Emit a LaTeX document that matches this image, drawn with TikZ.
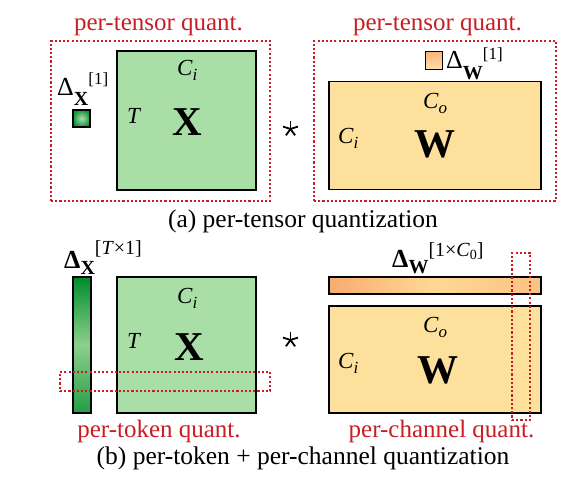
\documentclass[tikz,border=0pt]{standalone}
\usepackage{fontspec}
\setmainfont{Liberation Serif}
\definecolor{gfill}{RGB}{169,223,167}
\definecolor{ofill}{RGB}{253,224,156}
\definecolor{qred}{RGB}{200,30,35}
\definecolor{gdark}{RGB}{0,140,45}
\definecolor{glight}{RGB}{140,208,140}
\definecolor{odark}{RGB}{248,172,112}
\definecolor{olight}{RGB}{254,216,150}
\tikzset{
  mat/.style={draw=black, line width=1.7pt, inner sep=0pt, outer sep=0pt},
  qbox/.style={draw=qred, line width=2.1pt, dash pattern=on 2.1pt off 2.1pt, inner sep=0pt, outer sep=0pt},
  qlab/.style={text=qred, font=\fontsize{25}{25}\selectfont, anchor=base, inner sep=0pt},
  caplab/.style={font=\fontsize{25.5}{26}\selectfont, anchor=base, inner sep=0pt},
  dimlab/.style={font=\fontsize{23}{23}\selectfont\itshape, anchor=base west, inner sep=0pt},
  biglab/.style={font=\fontsize{41}{41}\selectfont\bfseries, anchor=base, inner sep=0pt},
  deltalab/.style={anchor=base west, inner sep=0pt},
  stararm/.style={line width=1.8pt, draw=black},
}
\newcommand{\subsz}[1]{{\fontsize{17}{17}\selectfont #1}}
\newcommand{\subszb}[1]{{\fontsize{20}{20}\selectfont #1}}
\newcommand{\supsz}[1]{{\fontsize{17}{17}\selectfont #1}}
\newcommand{\supszb}[1]{{\fontsize{20}{20}\selectfont #1}}
\begin{document}
\begin{tikzpicture}[x=1pt,y=-1pt]
\useasboundingbox (0,0) rectangle (574,485);
% ---------- (a) top ----------
\node[mat, fill=gfill, minimum width=139pt, minimum height=139pt] (X1) at (186.5,120.5) {};
\node[mat, inner color=glight!70!white, outer color=gdark!85!glight, minimum width=17pt, minimum height=17pt] (dX1) at (81.5,118.5) {};
\node[mat, fill=ofill, minimum width=212pt, minimum height=108pt] (W1) at (435,135.5) {};
\node[mat, top color=odark!80!olight, bottom color=olight!80!white, minimum width=17pt, minimum height=18pt] (dW1) at (434,60.5) {};
\node[qbox, minimum width=219pt, minimum height=160pt] (Q1) at (160.5,121) {};
\node[qbox, minimum width=242pt, minimum height=160pt] (Q2) at (435,121) {};

\node[dimlab] (ci1) at (177,75) {C\raisebox{-5pt}{\subsz{i}}};
\node[dimlab] (t1) at (127,123) {T};
\node[biglab] (xl1) at (187,135) {X};
\node[dimlab] (ci2) at (338,143) {C\raisebox{-5pt}{\subsz{i}}};
\node[dimlab] (co1) at (423,108) {C\raisebox{-5pt}{\subsz{o}}};
\node[biglab] (wl1) at (435,157) {W};

\node[deltalab] (lX1) at (57,95) {\fontsize{26}{26}\selectfont Δ\raisebox{-10pt}{\subszb{\bfseries X}}\raisebox{11pt}{\supsz{[1]}}};
\node[deltalab] (lW1) at (446,68) {\fontsize{26}{26}\selectfont Δ\raisebox{-11pt}{\subszb{\bfseries W}}\raisebox{9pt}{\supsz{[1]}}};

\node[qlab] (qa1) at (158.5,30) {per-tensor quant.};
\node[qlab] (qa2) at (437.5,30) {per-tensor quant.};
\coordinate (s1) at (290.5,129);
\foreach \a in {270,342,198,126,54} \draw[stararm] (s1) -- ++(\a:7.8);
\node[caplab] (capa) at (303,227) {(a) per-tensor quantization};

% ---------- (b) bottom ----------
\node[mat, fill=gfill, minimum width=139pt, minimum height=136pt] (X2) at (186.5,345) {};
\node[mat, minimum width=18pt, minimum height=136pt, top color=gdark, bottom color=gdark!75!glight, middle color=glight] (dX2) at (82,345) {};
\node[mat, fill=ofill, minimum width=212pt, minimum height=107pt] (W2) at (435,359.5) {};
\node[mat, minimum width=212pt, minimum height=17pt, left color=odark, right color=odark!50!olight, middle color=olight] (dW2) at (435,285.5) {};
\node[qbox, minimum width=210pt, minimum height=19pt] (Q3) at (165,381.5) {};
\node[qbox, minimum width=18pt, minimum height=167pt] (Q4) at (521,336.5) {};

\node[dimlab] (ci3) at (177,303) {C\raisebox{-5pt}{\subsz{i}}};
\node[dimlab] (t2) at (127,348) {T};
\node[biglab] (xl2) at (189,360) {X};
\node[dimlab] (ci4) at (338,368) {C\raisebox{-5pt}{\subsz{i}}};
\node[dimlab] (co2) at (423,332) {C\raisebox{-5pt}{\subsz{o}}};
\node[biglab] (wl2) at (438,383) {W};

\node[deltalab] (lX2) at (64,268) {\fontsize{26}{26}\selectfont\bfseries Δ\raisebox{-6pt}{\subszb{X}}\raisebox{14pt}{\supszb{\mdseries[\textit{T}×1]}}};
\node[deltalab] (lW2) at (392,267) {\fontsize{26}{26}\selectfont\bfseries Δ\raisebox{-6pt}{\subszb{W}}\raisebox{11pt}{\supszb{\mdseries[1×\textit{C}\raisebox{-3pt}{\fontsize{14}{14}\selectfont 0}]}}};

\node[qlab] (qb1) at (159,437) {per-token quant.};
\node[qlab] (qb2) at (441.5,437) {per-channel quant.};
\coordinate (s2) at (290.5,340);
\foreach \a in {270,342,198,126,54} \draw[stararm] (s2) -- ++(\a:7.8);
\node[caplab] (capb) at (303,464) {(b) per-token + per-channel quantization};
\end{tikzpicture}
\end{document}
